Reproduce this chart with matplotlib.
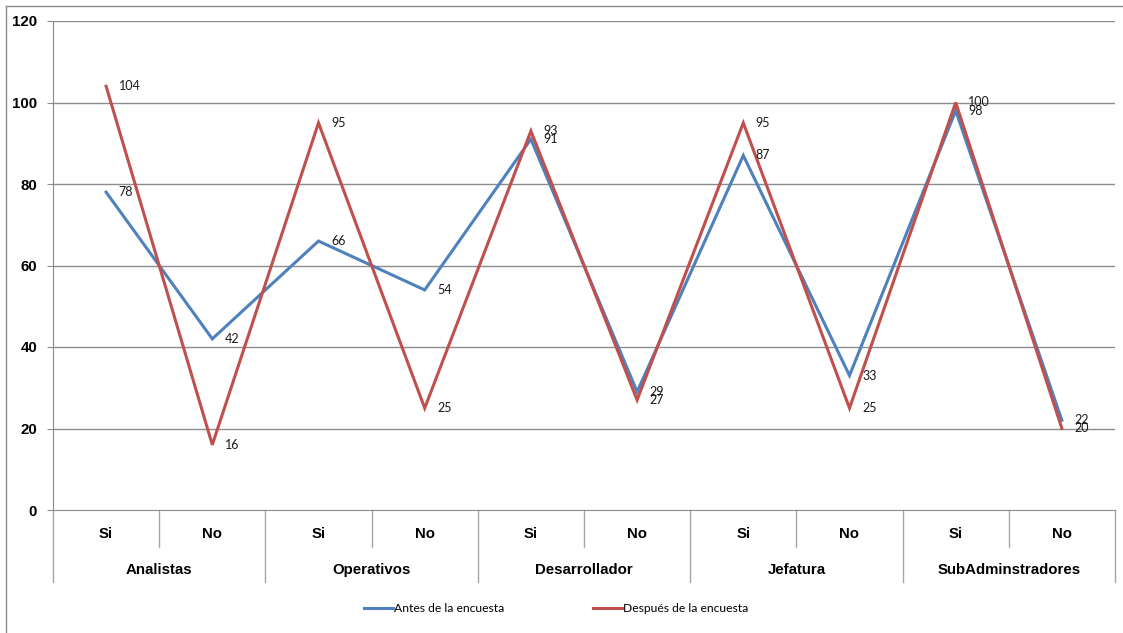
import numpy as np
import matplotlib.pyplot as plt
from matplotlib.lines import Line2D
from matplotlib.transforms import blended_transform_factory

groups = ['Analistas', 'Operativos', 'Desarrollador', 'Jefatura', 'SubAdminstradores']
answers = ['Si', 'No']
antes = [78, 42, 66, 54, 91, 29, 87, 33, 98, 22]
despues = [104, 16, 95, 25, 93, 27, 95, 25, 100, 20]
series_names = ['Antes de la encuesta', 'Después de la encuesta']
y_ticks = [0, 20, 40, 60, 80, 100, 120]

blue = '#4F81BD'
red = '#C0504D'
grid_col = '#8C8C8C'

W, H = 1123, 633
fig = plt.figure(figsize=(W / 100, H / 100), dpi=100)

# plot area in pixel coordinates
left, right, top, bottom = 53, 1115, 21, 510
ax = fig.add_axes([left / W, (H - bottom) / H, (right - left) / W, (bottom - top) / H])

x = np.arange(len(antes))
ax.plot(x, antes, color=blue, lw=2.2, solid_joinstyle='miter', zorder=3)
ax.plot(x, despues, color=red, lw=2.2, solid_joinstyle='miter', zorder=4)

for xs, ys in [(x, antes), (x, despues)]:
    for xi, yi in zip(xs, ys):
        ax.annotate(str(yi), (xi, yi), xytext=(9, 0), textcoords='offset points',
                    va='center', ha='left', fontsize=9, family='Lato', color='#1a1a1a',
                    zorder=5)

ax.set_xlim(-0.5, len(antes) - 0.5)
ax.set_ylim(0, 120)
ax.set_yticks(y_ticks)
ax.set_yticklabels([str(t) for t in y_ticks], fontsize=10.8, fontweight='bold',
                   family='Liberation Sans')
ax.tick_params(axis='y', length=4, color=grid_col, pad=7.5)
ax.set_xticks([])
for t in y_ticks[1:]:
    ax.axhline(t, color=grid_col, lw=1, zorder=1)

for side in ['top', 'right']:
    ax.spines[side].set_visible(False)
ax.spines['left'].set_color(grid_col)
ax.spines['bottom'].set_color(grid_col)

# two-level category axis below the plot
trans = blended_transform_factory(ax.transData, ax.transAxes)
ph = bottom - top
y_inner = -(534 - bottom) / ph
y_outer = -(570 - bottom) / ph
sep_inner = -(547 - bottom) / ph
sep_outer = -(582 - bottom) / ph

for i in range(len(antes)):
    ax.text(i, y_inner, answers[i % 2], transform=trans, ha='center', va='center',
            fontsize=10.8, fontweight='bold', family='Liberation Sans', clip_on=False)
for g, name in enumerate(groups):
    ax.text(2 * g + 0.5, y_outer, name, transform=trans, ha='center', va='center',
            fontsize=10.8, fontweight='bold', family='Liberation Sans', clip_on=False)

for k in range(len(antes) + 1):
    xk = k - 0.5
    y_end = sep_outer if k % 2 == 0 else sep_inner
    ax.add_line(Line2D([xk, xk], [0, y_end], transform=trans, color='#A6A6A6',
                       lw=1, clip_on=False))

leg = fig.legend([Line2D([], [], color=blue, lw=2.2), Line2D([], [], color=red, lw=2.2)],
                 series_names, loc='center', bbox_to_anchor=(556 / W, (H - 609) / H),
                 ncol=2, frameon=False, handlelength=2.4, handletextpad=0.05,
                 columnspacing=7.4, prop={'family': 'Lato', 'size': 8.7})

# chart border along top and left
fig.add_artist(Line2D([6 / W, 1], [1 - 6 / H, 1 - 6 / H], transform=fig.transFigure,
                      color='#8C8C8C', lw=1))
fig.add_artist(Line2D([6 / W, 6 / W], [0, 1 - 6 / H], transform=fig.transFigure,
                      color='#8C8C8C', lw=1))

fig.savefig('out.png', dpi=100)
